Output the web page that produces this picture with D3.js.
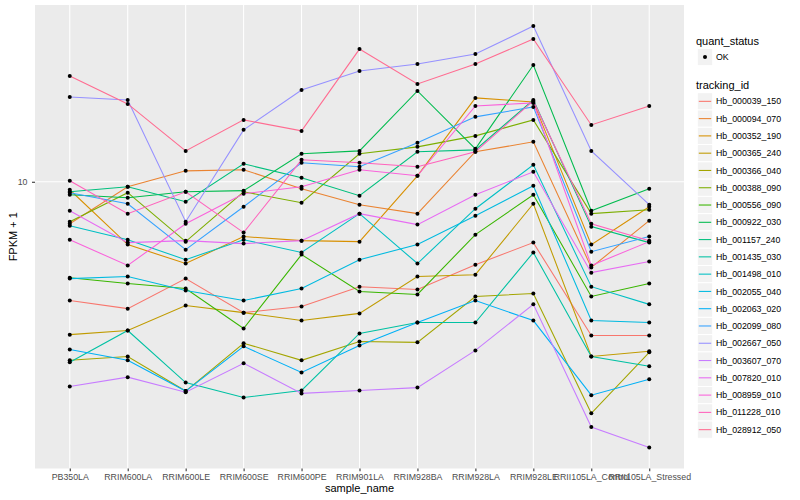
<!DOCTYPE html>
<html>
<head>
<meta charset="utf-8">
<script src="https://d3js.org/d3.v7.min.js"></script>
<style>
  body { margin: 0; background: #fff; }
  text { font-family: "Liberation Sans", Arial, Helvetica, sans-serif; }
</style>
</head>
<body>
<svg id="chart" width="800" height="500"></svg>
<script>
// samples on the x axis
const samples = ['PB350LA', 'RRIM600LA', 'RRIM600LE', 'RRIM600SE', 'RRIM600PE', 'RRIM901LA',
  'RRIM928BA', 'RRIM928LA', 'RRIM928LE', 'RRII105LA_Control', 'RRII105LA_Stressed']

const trackingIds = ['Hb_000039_150', 'Hb_000094_070', 'Hb_000352_190', 'Hb_000365_240', 'Hb_000366_040',
  'Hb_000388_090', 'Hb_000556_090', 'Hb_000922_030', 'Hb_001157_240', 'Hb_001435_030',
  'Hb_001498_010', 'Hb_002055_040', 'Hb_002063_020', 'Hb_002099_080', 'Hb_002667_050',
  'Hb_003607_070', 'Hb_007820_010', 'Hb_008959_010', 'Hb_011228_010', 'Hb_028912_050']

// FPKM + 1, one array per gene, in sample order
const hb000039 = [5.04, 4.81, 5.72, 4.70, 4.87, 5.46, 5.37, 6.20, 7.04, 4.12, 4.12]
const hb000094 = [7.85, 9.72, 10.65, 10.72, 9.61, 8.76, 8.32, 11.89, 12.59, 6.10, 7.99]
const hb000352 = [9.55, 6.96, 6.24, 7.29, 7.12, 7.08, 10.35, 16.22, 15.85, 6.96, 8.66]
const hb000365 = [4.14, 4.24, 4.90, 4.70, 4.49, 4.68, 5.79, 5.85, 8.81, 3.65, 3.76]
const hb000366 = [3.57, 3.65, 2.99, 3.94, 3.57, 3.98, 3.96, 5.16, 5.25, 2.63, 3.74]
const hb000388 = [7.94, 9.39, 7.08, 9.44, 8.86, 11.75, 12.23, 13.03, 14.29, 8.32, 8.51]
const hb000556 = [5.75, 5.56, 5.40, 4.29, 6.57, 5.31, 5.22, 7.37, 9.28, 5.16, 5.56]
const hb000922 = [9.28, 9.12, 9.44, 9.50, 11.75, 11.95, 16.89, 12.09, 19.61, 8.46, 9.61]
const hb001157 = [9.44, 9.72, 8.91, 11.09, 10.23, 9.23, 11.89, 12.02, 16.03, 7.72, 7.04]
const hb001435 = [3.53, 4.24, 3.14, 2.88, 3.00, 4.17, 4.44, 4.44, 6.65, 3.65, 3.45]
const hb001498 = [7.76, 7.16, 6.38, 7.16, 6.65, 8.32, 6.24, 8.56, 11.03, 5.46, 4.93]
const hb002055 = [5.72, 5.79, 5.34, 5.04, 5.40, 6.38, 6.96, 8.22, 9.77, 4.49, 4.44]
const hb002063 = [3.80, 3.57, 2.99, 3.87, 3.33, 3.89, 4.44, 5.04, 4.49, 2.92, 3.20]
const hb002099 = [9.39, 8.81, 6.76, 8.66, 11.16, 10.90, 12.52, 14.54, 15.40, 6.68, 7.29]
const hb002667 = [16.31, 16.03, 7.94, 13.49, 16.98, 18.95, 19.72, 20.89, 24.55, 11.95, 8.76]
const hb003607 = [3.07, 3.24, 2.97, 3.51, 2.95, 3.00, 3.05, 3.78, 4.93, 2.43, 2.16]
const hb007820 = [8.46, 7.04, 7.12, 7.00, 7.12, 8.32, 7.81, 9.28, 10.59, 5.92, 6.31]
const hb008959 = [7.16, 6.17, 7.85, 9.33, 9.72, 10.72, 10.35, 15.49, 15.76, 6.17, 7.08]
const hb011228 = [10.06, 8.32, 9.44, 7.46, 11.35, 11.16, 10.90, 11.89, 15.94, 7.85, 7.12]
const hb028912 = [18.41, 15.67, 11.95, 14.29, 13.41, 21.50, 17.58, 19.72, 22.78, 13.88, 15.49]

const yTicks = [10]

const seriesValues = [hb000039, hb000094, hb000352, hb000365, hb000366, hb000388, hb000556,
  hb000922, hb001157, hb001435, hb001498, hb002055, hb002063, hb002099, hb002667,
  hb003607, hb007820, hb008959, hb011228, hb028912]

// ggplot hue palette, 20 levels
const palette = ['#F8766D', '#EA8331', '#D89000', '#C09B00', '#A3A500', '#7CAE00', '#39B600',
  '#00BB4E', '#00BF7D', '#00C1A3', '#00BFC4', '#00BAE0', '#00B0F6', '#35A2FF', '#9590FF',
  '#C77CFF', '#E76BF3', '#FA62DB', '#FF62BC', '#FF6C91']

const series = trackingIds.map((id, i) => ({ id, values: seriesValues[i], color: palette[i] }))

const panel = { left: 35, right: 684, top: 5, bottom: 468.5 }
const svg = d3.select('#chart')

// scales
const x = d3.scalePoint()
  .domain(samples)
  .range([panel.left, panel.right])
  .padding(0.6)

const allValues = seriesValues.flat()
const logLo = Math.log10(d3.min(allValues))
const logHi = Math.log10(d3.max(allValues))
const pad = (logHi - logLo) * 0.05
const y = d3.scaleLog()
  .domain([Math.pow(10, logLo - pad), Math.pow(10, logHi + pad)])
  .range([panel.bottom, panel.top])

// panel + grid
svg.append('rect')
  .attr('x', panel.left)
  .attr('y', panel.top)
  .attr('width', panel.right - panel.left)
  .attr('height', panel.bottom - panel.top)
  .attr('fill', '#EBEBEB')

svg.append('g')
  .selectAll('line')
  .data(samples)
  .enter()
  .append('line')
  .attr('x1', (d) => x(d))
  .attr('x2', (d) => x(d))
  .attr('y1', panel.top)
  .attr('y2', panel.bottom)
  .attr('stroke', '#fff')
  .attr('stroke-width', 1.07)

svg.append('g')
  .selectAll('line')
  .data(yTicks)
  .enter()
  .append('line')
  .attr('x1', panel.left)
  .attr('x2', panel.right)
  .attr('y1', (d) => y(d))
  .attr('y2', (d) => y(d))
  .attr('stroke', '#fff')
  .attr('stroke-width', 1.07)

// lines, one per gene
const line = d3.line()
  .x((d, i) => x(samples[i]))
  .y((d) => y(d))

svg.append('g')
  .selectAll('path')
  .data(series)
  .enter()
  .append('path')
  .attr('d', (d) => line(d.values))
  .attr('fill', 'none')
  .attr('stroke', (d) => d.color)
  .attr('stroke-width', 1.07)

// points on top
svg.append('g')
  .selectAll('g')
  .data(series)
  .enter()
  .append('g')
  .selectAll('circle')
  .data((d) => d.values)
  .enter()
  .append('circle')
  .attr('cx', (d, i) => x(samples[i]))
  .attr('cy', (d) => y(d))
  .attr('r', 2)
  .attr('fill', '#000')

// axes
const yAxis = svg.append('g')
  .attr('transform', `translate(${panel.left},0)`)
  .call(d3.axisLeft(y).tickValues(yTicks).tickFormat(d3.format('d')).tickSize(3).tickPadding(4.5))
const xAxis = svg.append('g')
  .attr('transform', `translate(0,${panel.bottom})`)
  .call(d3.axisBottom(x).tickSize(2.75).tickPadding(2.5))

;[xAxis, yAxis].forEach((g) => {
  g.select('.domain').remove()
  g.selectAll('.tick line').attr('stroke', '#333333').attr('stroke-width', 1.07)
  g.selectAll('.tick text')
    .attr('fill', '#4D4D4D')
    .style('font-size', '8.8px')
    .style('font-family', '"Liberation Sans", Arial, sans-serif')
})

svg.append('text')
  .attr('x', (panel.left + panel.right) / 2)
  .attr('y', 492)
  .attr('text-anchor', 'middle')
  .style('font-size', '11px')
  .text('sample_name')

svg.append('text')
  .attr('transform', `translate(16.5,${(panel.top + panel.bottom) / 2}) rotate(-90)`)
  .attr('text-anchor', 'middle')
  .style('font-size', '11px')
  .text('FPKM + 1')

// legends
const keyH = 17.28
const keyX = 697.3
const keyW = 15.4

svg.append('text')
  .attr('x', 696)
  .attr('y', 44.5)
  .style('font-size', '11px')
  .text('quant_status')

svg.append('rect')
  .attr('x', keyX)
  .attr('y', 48.4)
  .attr('width', keyW)
  .attr('height', keyH)
  .attr('fill', '#F2F2F2')
  .attr('stroke', '#fff')

svg.append('circle')
  .attr('cx', keyX + keyW / 2)
  .attr('cy', 48.4 + keyH / 2)
  .attr('r', 2)
  .attr('fill', '#000')

svg.append('text')
  .attr('x', 716)
  .attr('y', 48.4 + keyH / 2 + 3.1)
  .style('font-size', '8.8px')
  .text('OK')

svg.append('text')
  .attr('x', 696)
  .attr('y', 88.5)
  .style('font-size', '11px')
  .text('tracking_id')

const legendTop = 92.7
const entries = svg.append('g')
  .selectAll('g')
  .data(series)
  .enter()
  .append('g')
  .attr('transform', (d, i) => `translate(0,${legendTop + i * keyH})`)

entries.append('rect')
  .attr('x', keyX)
  .attr('y', 0)
  .attr('width', keyW)
  .attr('height', keyH)
  .attr('fill', '#F2F2F2')
  .attr('stroke', '#fff')

entries.append('line')
  .attr('x1', keyX + 1.5)
  .attr('x2', keyX + keyW - 1.5)
  .attr('y1', keyH / 2)
  .attr('y2', keyH / 2)
  .attr('stroke', (d) => d.color)
  .attr('stroke-width', 1.07)

entries.append('text')
  .attr('x', 716)
  .attr('y', keyH / 2 + 3.1)
  .style('font-size', '8.8px')
  .text((d) => d.id)
</script>
</body>
</html>
